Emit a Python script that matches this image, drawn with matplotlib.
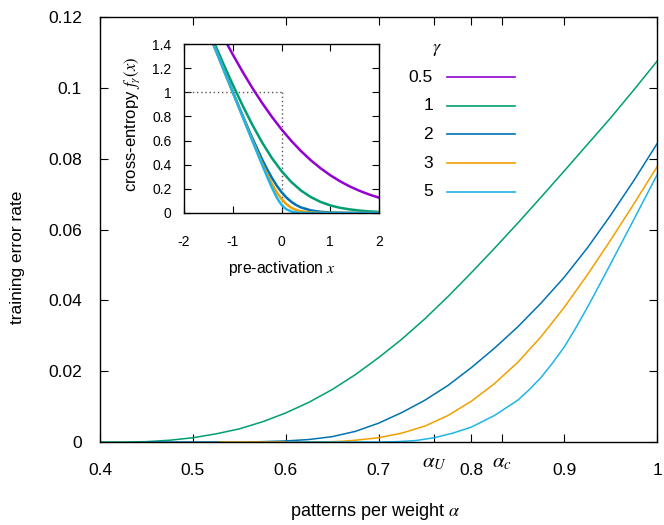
import matplotlib
matplotlib.use("Agg")
import matplotlib.pyplot as plt
from matplotlib.lines import Line2D

plt.rcParams["font.family"] = ["Liberation Sans", "DejaVu Sans"]
plt.rcParams["mathtext.fontset"] = "stix"

# main panel: training error rate vs patterns per weight
alpha_g1 = [0.40, 0.425, 0.45, 0.475, 0.50, 0.525, 0.55, 0.575, 0.60, 0.625, 0.65, 0.675,
            0.70, 0.725, 0.75, 0.775, 0.80, 0.825, 0.85, 0.875, 0.90, 0.925, 0.95, 0.975, 1.00]
err_g1 = [0.0, 0.0, 0.0001, 0.0005, 0.0012, 0.0023, 0.0037, 0.0057, 0.0082, 0.0112, 0.0148, 0.0190,
          0.0238, 0.0290, 0.0348, 0.0411, 0.0478, 0.0547, 0.0618, 0.0691, 0.0765, 0.0840, 0.0915,
          0.0994, 0.1075]

alpha_g2 = [0.45, 0.56, 0.575, 0.60, 0.625, 0.65, 0.675, 0.70, 0.725, 0.75, 0.775, 0.80,
            0.825, 0.85, 0.875, 0.90, 0.925, 0.95, 0.975, 1.00]
err_g2 = [0.0, 0.0, 0.0001, 0.0003, 0.0007, 0.0015, 0.0030, 0.0053, 0.0083, 0.0118, 0.0160, 0.0210,
          0.0265, 0.0325, 0.0392, 0.0465, 0.0548, 0.0640, 0.0738, 0.0842]

alpha_g3 = [0.53, 0.64, 0.66, 0.675, 0.70, 0.725, 0.75, 0.775, 0.80, 0.825, 0.85, 0.875,
            0.90, 0.925, 0.95, 0.975, 1.00]
err_g3 = [0.0, 0.0, 0.0002, 0.0005, 0.0012, 0.0025, 0.0045, 0.0075, 0.0115, 0.0165, 0.0225, 0.0297,
          0.0380, 0.0472, 0.0570, 0.0672, 0.0777]

alpha_g5 = [0.60, 0.70, 0.72, 0.74, 0.76, 0.78, 0.80, 0.825, 0.85, 0.8625, 0.875, 0.8875, 0.90,
            0.9125, 0.925, 0.9375, 0.95, 0.975, 1.00]
err_g5 = [0.0, 0.0, 0.0001, 0.0004, 0.0012, 0.0025, 0.0042, 0.0075, 0.0118, 0.0148, 0.0182, 0.0223,
          0.0268, 0.0322, 0.0380, 0.0441, 0.0503, 0.0628, 0.0754]

# inset: cross-entropy loss vs pre-activation
x_smooth = [-2.0, -1.6, -1.4, -1.2, -1.0, -0.8, -0.6, -0.4, -0.2, 0.0,
            0.2, 0.4, 0.6, 0.8, 1.0, 1.2, 1.4, 1.6, 1.8, 2.0]
f_g05 = [2.127, 1.784, 1.620, 1.463, 1.313, 1.171, 1.037, 0.913, 0.798, 0.693,
         0.598, 0.513, 0.437, 0.371, 0.313, 0.263, 0.220, 0.184, 0.153, 0.127]
f_g1 = [2.009, 1.620, 1.429, 1.243, 1.063, 0.892, 0.732, 0.586, 0.457, 0.347,
        0.257, 0.186, 0.132, 0.092, 0.063, 0.043, 0.030, 0.020, 0.0135, 0.009]

x_g2 = [-2.0, -1.6, -1.4, -1.2, -1.0, -0.8, -0.6, -0.4, -0.3, -0.2, -0.1, 0.0,
        0.1, 0.2, 0.3, 0.4, 0.6, 0.8, 1.0, 1.4, 2.0]
f_g2 = [2.000, 1.600, 1.401, 1.202, 1.005, 0.810, 0.622, 0.446, 0.366, 0.293, 0.228, 0.173,
        0.128, 0.093, 0.066, 0.046, 0.022, 0.010, 0.0045, 0.0009, 0.0001]

x_g3 = [-2.0, -1.6, -1.4, -1.2, -1.0, -0.8, -0.6, -0.4, -0.3, -0.2, -0.1, 0.0,
        0.1, 0.2, 0.3, 0.4, 0.6, 0.8, 1.0, 2.0]
f_g3 = [2.000, 1.600, 1.400, 1.200, 1.000, 0.801, 0.605, 0.414, 0.326, 0.244, 0.173, 0.116,
        0.073, 0.044, 0.025, 0.0145, 0.0045, 0.0014, 0.0004, 0.0]

x_g5 = [-2.0, -1.6, -1.4, -1.2, -1.0, -0.8, -0.6, -0.4, -0.3, -0.2, -0.1, -0.05, 0.0,
        0.05, 0.1, 0.2, 0.3, 0.4, 0.6, 1.0, 2.0]
f_g5 = [2.000, 1.600, 1.400, 1.200, 1.000, 0.800, 0.600, 0.402, 0.305, 0.213, 0.131, 0.097, 0.0693,
        0.047, 0.031, 0.0127, 0.0049, 0.0018, 0.0002, 0.0, 0.0]

gamma_labels = ["0.5", "1", "2", "3", "5"]
colors = ["#9400d3", "#009e73", "#0072b2", "#f0a000", "#20b4e8"]

main_xticks = [0.4, 0.5, 0.6, 0.7, 0.8, 0.9, 1.0]
main_xticklabels = ["0.4", "0.5", "0.6", "0.7", "0.8", "0.9", "1"]
main_yticks = [0, 0.02, 0.04, 0.06, 0.08, 0.1, 0.12]
main_yticklabels = ["0", "0.02", "0.04", "0.06", "0.08", "0.1", "0.12"]
alpha_U = 0.76
alpha_c = 0.833

inset_xticks = [-2, -1, 0, 1, 2]
inset_yticks = [0, 0.2, 0.4, 0.6, 0.8, 1.0, 1.2, 1.4]
inset_yticklabels = ["0", "0.2", "0.4", "0.6", "0.8", "1", "1.2", "1.4"]

W, H = 664, 525
fig = plt.figure(figsize=(W / 100, H / 100), dpi=100)

# main axes
ax = fig.add_axes([100 / W, 1 - 442 / H, 557 / W, 425 / H])
for a, e, c in [(alpha_g1, err_g1, colors[1]), (alpha_g2, err_g2, colors[2]),
                (alpha_g3, err_g3, colors[3]), (alpha_g5, err_g5, colors[4])]:
    ax.plot(a, e, color=c, lw=1.1)
ax.set_xlim(0.4, 1.0)
ax.set_ylim(0, 0.12)
ax.set_xticks(main_xticks + [alpha_U, alpha_c])
ax.set_xticklabels(main_xticklabels + ["", ""])
ax.set_yticks(main_yticks)
ax.set_yticklabels(main_yticklabels)
ax.tick_params(direction="in", top=True, right=True, length=6, width=0.8,
               labelsize=12.5)
ax.tick_params(axis="x", pad=15)
ax.tick_params(axis="y", pad=13)
for s in ax.spines.values():
    s.set_linewidth(1.0)

trans = ax.get_xaxis_transform()
for xv, lab in [(alpha_U, r"$\alpha_U$"), (alpha_c, r"$\alpha_c$")]:
    ax.text(xv, -0.048, lab, transform=trans, ha="center", va="center", fontsize=15)

fig.text(18 / W, 1 - 257 / H, "training error rate", rotation=90,
         ha="center", va="center", fontsize=12.5)
fig.text(375 / W, 1 - 512 / H, r"patterns per weight $\alpha$",
         ha="center", va="center", fontsize=13)

# inset axes
ins = fig.add_axes([184 / W, 1 - 213 / H, 195 / W, 169 / H])
ins.plot([-2, 0], [1, 1], color="#555555", lw=1, ls=(0, (1, 2)))
ins.plot([0, 0], [1, 0], color="#555555", lw=1, ls=(0, (1, 2)))
for xs, fs, c in [(x_smooth, f_g05, colors[0]), (x_smooth, f_g1, colors[1]),
                  (x_g2, f_g2, colors[2]), (x_g3, f_g3, colors[3]),
                  (x_g5, f_g5, colors[4])]:
    ins.plot(xs, fs, color=c, lw=1.8)
ins.set_xlim(-2, 2)
ins.set_ylim(0, 1.4)
ins.set_xticks(inset_xticks)
ins.set_xticklabels([str(v) for v in inset_xticks])
ins.set_yticks(inset_yticks)
ins.set_yticklabels(inset_yticklabels)
ins.tick_params(direction="in", top=True, right=True, length=5, width=0.8,
                labelsize=10)
ins.tick_params(axis="x", pad=16)
ins.tick_params(axis="y", pad=9)
for s in ins.spines.values():
    s.set_linewidth(1.0)
fig.text(132 / W, 1 - 124 / H, r"cross-entropy $f_\gamma(x)$", rotation=90,
         ha="center", va="center", fontsize=12)
fig.text(282 / W, 1 - 268 / H, r"pre-activation $x$",
         ha="center", va="center", fontsize=11.3)

# legend drawn by hand to get right-aligned labels
fig.text(437 / W, 1 - 50 / H, r"$\gamma$", ha="center", va="center", fontsize=13)
row_y = 77
for lab, c in zip(gamma_labels, colors):
    fig.text(433 / W, 1 - row_y / H, lab, ha="right", va="center", fontsize=12.5)
    fig.add_artist(Line2D([447 / W, 515 / W], [1 - row_y / H, 1 - row_y / H],
                          color=c, lw=1.2, transform=fig.transFigure))
    row_y += 28.7

fig.savefig("out.png", dpi=100)
